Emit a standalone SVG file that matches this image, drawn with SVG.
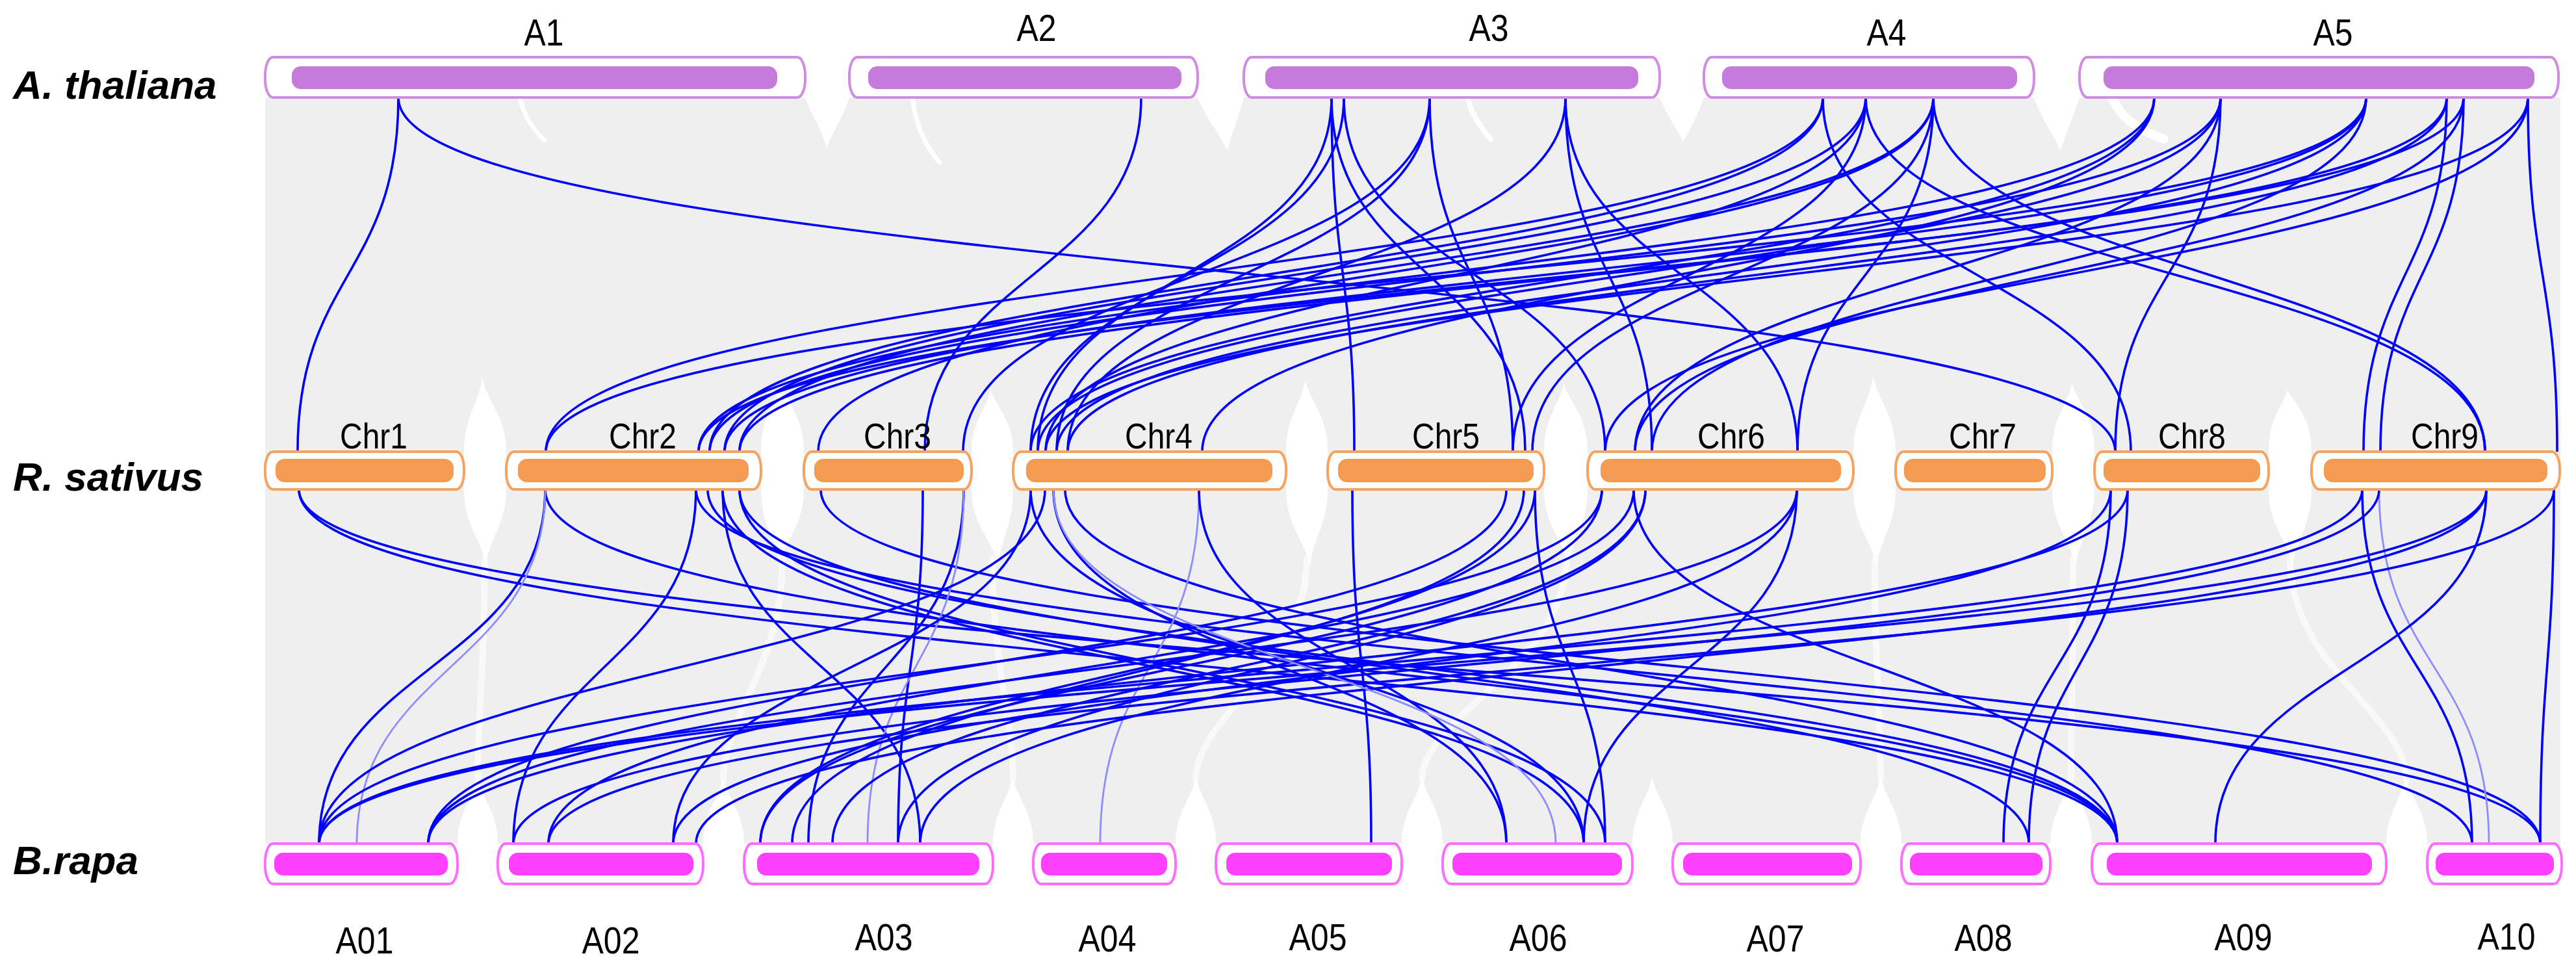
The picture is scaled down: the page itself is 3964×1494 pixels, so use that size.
<svg xmlns="http://www.w3.org/2000/svg" width="3964" height="1494" viewBox="0 0 3964 1494">
<style>
.band{fill:#efefef}
.gap{fill:#ffffff}
.ch{fill:none;stroke:#ffffff;stroke-linecap:round}
.lk{fill:none;stroke:#0000ff;stroke-width:3.6}
.lt{fill:none;stroke:#8c8cff;stroke-width:2.8}
.op{fill:#ffffff;stroke:#d08ce2;stroke-width:4}
.ip{fill:#c47bdc}
.oo{fill:#ffffff;stroke:#f4a460;stroke-width:4}
.io{fill:#f39b53}
.om{fill:#ffffff;stroke:#ff6cff;stroke-width:4}
.im{fill:#ff40ff}
.lab{font-family:"Liberation Sans",Arial,sans-serif;fill:#000;text-anchor:middle}
.sp{font-family:"Liberation Sans",Arial,sans-serif;font-weight:bold;font-style:italic;font-size:62px;fill:#000}
</style>
<g id="background">
<rect class="band" x="408" y="150" width="3532" height="1148"/>
<path class="gap" d="M1239 150C1250 180 1266 200 1272 228C1282 200 1298 180 1307 150Z"/>
<path class="gap" d="M1843 150C1856 185 1878 205 1888 232C1896 205 1906 180 1914 150Z"/>
<path class="gap" d="M2554 150C2566 180 2582 200 2590 218C2600 200 2612 180 2622 150Z"/>
<path class="gap" d="M3130 150C3142 185 3160 205 3170 232C3180 205 3190 180 3200 150Z"/>
<path class="ch" stroke-width="7" d="M800 150C806 180 822 200 838 216"/>
<path class="ch" stroke-width="7" d="M1404 150C1410 200 1428 230 1446 250"/>
<path class="ch" stroke-width="8" d="M2258 150C2266 180 2282 200 2294 214"/>
<path class="ch" stroke-width="14" d="M3250 150C3262 180 3290 200 3330 214"/>
<path class="gap" d="M714 695C714 640 738 620 742 580C750 620 779 640 779 695L779 753C779 808 752 828 748 870C740 828 714 808 714 753Z"/>
<path class="gap" d="M1171 695C1171 640 1196 620 1200 585C1210 620 1237 640 1237 695L1237 753C1237 808 1208 828 1200 870C1194 828 1171 808 1171 753Z"/>
<path class="gap" d="M1495 695C1495 645 1520 630 1524 598C1534 630 1559 645 1559 695L1559 753C1559 808 1540 828 1536 870C1526 828 1495 808 1495 753Z"/>
<path class="gap" d="M1979 695C1979 640 2004 620 2008 585C2018 620 2043 640 2043 695L2043 753C2043 808 2020 828 2016 870C2006 828 1979 808 1979 753Z"/>
<path class="gap" d="M2376 695C2376 640 2402 620 2406 590C2416 620 2443 640 2443 695L2443 753C2443 808 2420 828 2414 870C2404 828 2376 808 2376 753Z"/>
<path class="gap" d="M2852 695C2852 640 2878 620 2882 578C2892 620 2917 640 2917 695L2917 753C2917 808 2894 828 2888 870C2878 828 2852 808 2852 753Z"/>
<path class="gap" d="M3158 695C3158 640 3184 620 3188 590C3198 620 3223 640 3223 695L3223 753C3223 808 3200 828 3194 870C3184 828 3158 808 3158 753Z"/>
<path class="gap" d="M3491 695C3491 640 3516 620 3520 600C3530 620 3557 640 3557 695L3557 753C3557 808 3534 828 3528 870C3518 828 3491 808 3491 753Z"/>
<path class="ch" stroke-width="10" opacity="0.6" d="M746 860C746 1026 735 1100 735 1200"/>
<path class="ch" stroke-width="10" opacity="0.6" d="M1204 860C1204 1026 1113 1100 1113 1200"/>
<path class="ch" stroke-width="10" opacity="0.6" d="M1527 860C1527 1026 1559 1100 1559 1200"/>
<path class="ch" stroke-width="10" opacity="0.6" d="M2011 860C2011 1026 1840 1100 1840 1200"/>
<path class="ch" stroke-width="10" opacity="0.6" d="M2410 860C2410 1026 2188 1100 2188 1200"/>
<path class="ch" stroke-width="10" opacity="0.6" d="M2885 860C2885 1026 2894 1100 2894 1200"/>
<path class="ch" stroke-width="10" opacity="0.6" d="M3190 860C3190 1026 3187 1100 3187 1200"/>
<path class="ch" stroke-width="10" opacity="0.6" d="M3524 860C3524 1026 3703 1100 3703 1200"/>
<path class="gap" d="M704 1298C704 1250 728 1230 734 1195C742 1230 766 1250 766 1298Z"/>
<path class="gap" d="M1082 1298C1082 1250 1106 1230 1112 1195C1120 1230 1145 1250 1145 1298Z"/>
<path class="gap" d="M1528 1298C1528 1250 1552 1230 1558 1195C1566 1230 1590 1250 1590 1298Z"/>
<path class="gap" d="M1809 1298C1809 1250 1834 1230 1840 1195C1848 1230 1871 1250 1871 1298Z"/>
<path class="gap" d="M2157 1298C2157 1250 2182 1230 2188 1195C2196 1230 2220 1250 2220 1298Z"/>
<path class="gap" d="M2512 1298C2512 1250 2536 1230 2542 1195C2550 1230 2574 1250 2574 1298Z"/>
<path class="gap" d="M2863 1298C2863 1250 2888 1230 2894 1195C2902 1230 2926 1250 2926 1298Z"/>
<path class="gap" d="M3155 1298C3155 1250 3180 1230 3186 1195C3194 1230 3219 1250 3219 1298Z"/>
<path class="gap" d="M3672 1298C3672 1250 3696 1230 3702 1195C3710 1230 3735 1250 3735 1298Z"/>
</g>
<g id="connectors">
<path class="lk" d="M613 150C613 423 458 423 458 695"/>
<path class="lk" d="M613 150C613 423 3255 423 3255 695"/>
<path class="lk" d="M1756 150C1756 423 1423 423 1423 695"/>
<path class="lk" d="M2049 150C2049 423 2084 423 2084 695"/>
<path class="lk" d="M2049 150C2049 423 1597 423 1597 695"/>
<path class="lk" d="M2068 150C2068 423 1586 423 1586 695"/>
<path class="lk" d="M2068 150C2068 423 2470 423 2470 695"/>
<path class="lk" d="M2049 150C2049 423 2347 423 2347 695"/>
<path class="lk" d="M2200 150C2200 423 1482 423 1482 695"/>
<path class="lk" d="M2200 150C2200 423 1626 423 1626 695"/>
<path class="lk" d="M2200 150C2200 423 2328 423 2328 695"/>
<path class="lk" d="M2409 150C2409 423 1643 423 1643 695"/>
<path class="lk" d="M2409 150C2409 423 2542 423 2542 695"/>
<path class="lk" d="M2409 150C2409 423 2766 423 2766 695"/>
<path class="lk" d="M2805 150C2805 423 840 423 840 695"/>
<path class="lk" d="M2805 150C2805 423 1092 423 1092 695"/>
<path class="lk" d="M2805 150C2805 423 3279 423 3279 695"/>
<path class="lk" d="M2871 150C2871 423 1115 423 1115 695"/>
<path class="lk" d="M2871 150C2871 423 3824 423 3824 695"/>
<path class="lk" d="M2871 150C2871 423 1609 423 1609 695"/>
<path class="lk" d="M2975 150C2975 423 1138 423 1138 695"/>
<path class="lk" d="M2975 150C2975 423 1259 423 1259 695"/>
<path class="lk" d="M2975 150C2975 423 3824 423 3824 695"/>
<path class="lk" d="M2975 150C2975 423 2766 423 2766 695"/>
<path class="lk" d="M2975 150C2975 423 2358 423 2358 695"/>
<path class="lk" d="M3315 150C3315 423 1075 423 1075 695"/>
<path class="lk" d="M3315 150C3315 423 1850 423 1850 695"/>
<path class="lk" d="M3417 150C3417 423 1092 423 1092 695"/>
<path class="lk" d="M3417 150C3417 423 2516 423 2516 695"/>
<path class="lk" d="M3417 150C3417 423 3255 423 3255 695"/>
<path class="lk" d="M3641 150C3641 423 1115 423 1115 695"/>
<path class="lk" d="M3641 150C3641 423 1626 423 1626 695"/>
<path class="lk" d="M3641 150C3641 423 2542 423 2542 695"/>
<path class="lk" d="M3765 150C3765 423 3637 423 3637 695"/>
<path class="lk" d="M3765 150C3765 423 1138 423 1138 695"/>
<path class="lk" d="M3765 150C3765 423 1643 423 1643 695"/>
<path class="lk" d="M3791 150C3791 423 3663 423 3663 695"/>
<path class="lk" d="M3791 150C3791 423 1075 423 1075 695"/>
<path class="lk" d="M3791 150C3791 423 2516 423 2516 695"/>
<path class="lk" d="M3890 150C3890 423 3935 423 3935 695"/>
<path class="lk" d="M3890 150C3890 423 2470 423 2470 695"/>
<path class="lk" d="M3890 150C3890 423 1609 423 1609 695"/>
<path class="lk" d="M3641 150C3641 423 840 423 840 695"/>
<path class="lk" d="M3315 150C3315 423 1586 423 1586 695"/>
<path class="lk" d="M3417 150C3417 423 1597 423 1597 695"/>
<path class="lk" d="M2871 150C2871 423 2328 423 2328 695"/>
<path class="lk" d="M460 753C460 1026 3909 1026 3909 1298"/>
<path class="lk" d="M460 753C460 1026 3258 1026 3258 1298"/>
<path class="lk" d="M839 753C839 1026 491 1026 491 1298"/>
<path class="lk" d="M839 753C839 1026 3258 1026 3258 1298"/>
<path class="lt" d="M839 753C839 1026 549 1026 549 1298"/>
<path class="lk" d="M1071 753C1071 1026 790 1026 790 1298"/>
<path class="lk" d="M1071 753C1071 1026 3804 1026 3804 1298"/>
<path class="lk" d="M1089 753C1089 1026 3258 1026 3258 1298"/>
<path class="lk" d="M1112 753C1112 1026 1416 1026 1416 1298"/>
<path class="lk" d="M1112 753C1112 1026 2437 1026 2437 1298"/>
<path class="lk" d="M1138 753C1138 1026 3122 1026 3122 1298"/>
<path class="lk" d="M1138 753C1138 1026 2470 1026 2470 1298"/>
<path class="lk" d="M1263 753C1263 1026 3909 1026 3909 1298"/>
<path class="lk" d="M1420 753C1420 1026 1382 1026 1382 1298"/>
<path class="lk" d="M1483 753C1483 1026 1244 1026 1244 1298"/>
<path class="lt" d="M1483 753C1483 1026 1335 1026 1335 1298"/>
<path class="lk" d="M1586 753C1586 1026 1036 1026 1036 1298"/>
<path class="lk" d="M1608 753C1608 1026 491 1026 491 1298"/>
<path class="lk" d="M1621 753C1621 1026 2318 1026 2318 1298"/>
<path class="lk" d="M1639 753C1639 1026 3258 1026 3258 1298"/>
<path class="lk" d="M1586 753C1586 1026 2437 1026 2437 1298"/>
<path class="lt" d="M1845 753C1845 1026 1693 1026 1693 1298"/>
<path class="lk" d="M1845 753C1845 1026 2318 1026 2318 1298"/>
<path class="lk" d="M2081 753C2081 1026 2110 1026 2110 1298"/>
<path class="lk" d="M2318 753C2318 1026 659 1026 659 1298"/>
<path class="lk" d="M2345 753C2345 1026 1219 1026 1219 1298"/>
<path class="lk" d="M2362 753C2362 1026 2470 1026 2470 1298"/>
<path class="lk" d="M2465 753C2465 1026 491 1026 491 1298"/>
<path class="lk" d="M2465 753C2465 1026 1170 1026 1170 1298"/>
<path class="lk" d="M2514 753C2514 1026 844 1026 844 1298"/>
<path class="lk" d="M2532 753C2532 1026 1281 1026 1281 1298"/>
<path class="lk" d="M2514 753C2514 1026 3258 1026 3258 1298"/>
<path class="lk" d="M2765 753C2765 1026 2437 1026 2437 1298"/>
<path class="lk" d="M2765 753C2765 1026 1416 1026 1416 1298"/>
<path class="lk" d="M3248 753C3248 1026 3083 1026 3083 1298"/>
<path class="lk" d="M3274 753C3274 1026 3122 1026 3122 1298"/>
<path class="lk" d="M3248 753C3248 1026 1036 1026 1036 1298"/>
<path class="lk" d="M3274 753C3274 1026 659 1026 659 1298"/>
<path class="lk" d="M3635 753C3635 1026 3804 1026 3804 1298"/>
<path class="lt" d="M3661 753C3661 1026 3830 1026 3830 1298"/>
<path class="lk" d="M3635 753C3635 1026 491 1026 491 1298"/>
<path class="lk" d="M3661 753C3661 1026 790 1026 790 1298"/>
<path class="lk" d="M3826 753C3826 1026 3409 1026 3409 1298"/>
<path class="lk" d="M3826 753C3826 1026 1071 1026 1071 1298"/>
<path class="lk" d="M3930 753C3930 1026 844 1026 844 1298"/>
<path class="lk" d="M3930 753C3930 1026 3909 1026 3909 1298"/>
<path class="lk" d="M2532 753C2532 1026 1382 1026 1382 1298"/>
<path class="lk" d="M2362 753C2362 1026 1170 1026 1170 1298"/>
<path class="lt" d="M1621 753C1621 1026 2394 1026 2394 1298"/>
<path class="lk" d="M3826 753C3826 1026 491 1026 491 1298"/>
<path class="lk" d="M2765 753C2765 1026 659 1026 659 1298"/>
</g>
<g id="species-labels">
<text class="sp" x="20" y="152">A. thaliana</text>
<text class="sp" x="20" y="755">R. sativus</text>
<text class="sp" x="20" y="1345">B.rapa</text>
</g>
<g id="A1"><rect class="op" x="408" y="88" width="831" height="62" rx="12" ry="28"/><rect class="ip" x="449" y="102" width="747" height="35" rx="14" ry="14"/><text class="lab" x="837" y="70" font-size="58" textLength="61" lengthAdjust="spacingAndGlyphs">A1</text></g>
<g id="A2"><rect class="op" x="1307" y="88" width="536" height="62" rx="12" ry="28"/><rect class="ip" x="1336" y="102" width="482" height="35" rx="14" ry="14"/><text class="lab" x="1595" y="63" font-size="58" textLength="61" lengthAdjust="spacingAndGlyphs">A2</text></g>
<g id="A3"><rect class="op" x="1914" y="88" width="640" height="62" rx="12" ry="28"/><rect class="ip" x="1947" y="102" width="574" height="35" rx="14" ry="14"/><text class="lab" x="2291" y="63" font-size="58" textLength="61" lengthAdjust="spacingAndGlyphs">A3</text></g>
<g id="A4"><rect class="op" x="2622" y="88" width="508" height="62" rx="12" ry="28"/><rect class="ip" x="2650" y="102" width="454" height="35" rx="14" ry="14"/><text class="lab" x="2903" y="70" font-size="58" textLength="61" lengthAdjust="spacingAndGlyphs">A4</text></g>
<g id="A5"><rect class="op" x="3200" y="88" width="737" height="62" rx="12" ry="28"/><rect class="ip" x="3237" y="102" width="663" height="35" rx="14" ry="14"/><text class="lab" x="3590" y="70" font-size="58" textLength="61" lengthAdjust="spacingAndGlyphs">A5</text></g>
<g id="Chr1"><rect class="oo" x="408" y="695" width="306" height="58" rx="12" ry="26"/><rect class="io" x="424" y="706" width="274" height="36" rx="14" ry="14"/><text class="lab" x="575" y="690" font-size="56" textLength="104" lengthAdjust="spacingAndGlyphs">Chr1</text></g>
<g id="Chr2"><rect class="oo" x="779" y="695" width="392" height="58" rx="12" ry="26"/><rect class="io" x="797" y="706" width="355" height="36" rx="14" ry="14"/><text class="lab" x="989" y="690" font-size="56" textLength="104" lengthAdjust="spacingAndGlyphs">Chr2</text></g>
<g id="Chr3"><rect class="oo" x="1237" y="695" width="258" height="58" rx="12" ry="26"/><rect class="io" x="1253" y="706" width="230" height="36" rx="14" ry="14"/><text class="lab" x="1381" y="690" font-size="56" textLength="104" lengthAdjust="spacingAndGlyphs">Chr3</text></g>
<g id="Chr4"><rect class="oo" x="1559" y="695" width="420" height="58" rx="12" ry="26"/><rect class="io" x="1579" y="706" width="379" height="36" rx="14" ry="14"/><text class="lab" x="1783" y="690" font-size="56" textLength="104" lengthAdjust="spacingAndGlyphs">Chr4</text></g>
<g id="Chr5"><rect class="oo" x="2043" y="695" width="333" height="58" rx="12" ry="26"/><rect class="io" x="2059" y="706" width="301" height="36" rx="14" ry="14"/><text class="lab" x="2225" y="690" font-size="56" textLength="104" lengthAdjust="spacingAndGlyphs">Chr5</text></g>
<g id="Chr6"><rect class="oo" x="2443" y="695" width="409" height="58" rx="12" ry="26"/><rect class="io" x="2463" y="706" width="370" height="36" rx="14" ry="14"/><text class="lab" x="2664" y="690" font-size="56" textLength="104" lengthAdjust="spacingAndGlyphs">Chr6</text></g>
<g id="Chr7"><rect class="oo" x="2917" y="695" width="241" height="58" rx="12" ry="26"/><rect class="io" x="2930" y="706" width="218" height="36" rx="14" ry="14"/><text class="lab" x="3051" y="690" font-size="56" textLength="104" lengthAdjust="spacingAndGlyphs">Chr7</text></g>
<g id="Chr8"><rect class="oo" x="3223" y="695" width="268" height="58" rx="12" ry="26"/><rect class="io" x="3237" y="706" width="241" height="36" rx="14" ry="14"/><text class="lab" x="3373" y="690" font-size="56" textLength="104" lengthAdjust="spacingAndGlyphs">Chr8</text></g>
<g id="Chr9"><rect class="oo" x="3557" y="695" width="382" height="58" rx="12" ry="26"/><rect class="io" x="3576" y="706" width="344" height="36" rx="14" ry="14"/><text class="lab" x="3762" y="690" font-size="56" textLength="104" lengthAdjust="spacingAndGlyphs">Chr9</text></g>
<g id="A01"><rect class="om" x="408" y="1298" width="296" height="62" rx="12" ry="28"/><rect class="im" x="422" y="1312" width="267" height="35" rx="14" ry="14"/><text class="lab" x="561" y="1467" font-size="58" textLength="89" lengthAdjust="spacingAndGlyphs">A01</text></g>
<g id="A02"><rect class="om" x="766" y="1298" width="316" height="62" rx="12" ry="28"/><rect class="im" x="783" y="1312" width="284" height="35" rx="14" ry="14"/><text class="lab" x="940" y="1467" font-size="58" textLength="89" lengthAdjust="spacingAndGlyphs">A02</text></g>
<g id="A03"><rect class="om" x="1145" y="1298" width="383" height="62" rx="12" ry="28"/><rect class="im" x="1165" y="1312" width="342" height="35" rx="14" ry="14"/><text class="lab" x="1360" y="1462" font-size="58" textLength="89" lengthAdjust="spacingAndGlyphs">A03</text></g>
<g id="A04"><rect class="om" x="1590" y="1298" width="219" height="62" rx="12" ry="28"/><rect class="im" x="1602" y="1312" width="194" height="35" rx="14" ry="14"/><text class="lab" x="1704" y="1464" font-size="58" textLength="89" lengthAdjust="spacingAndGlyphs">A04</text></g>
<g id="A05"><rect class="om" x="1871" y="1298" width="286" height="62" rx="12" ry="28"/><rect class="im" x="1887" y="1312" width="255" height="35" rx="14" ry="14"/><text class="lab" x="2028" y="1462" font-size="58" textLength="89" lengthAdjust="spacingAndGlyphs">A05</text></g>
<g id="A06"><rect class="om" x="2220" y="1298" width="292" height="62" rx="12" ry="28"/><rect class="im" x="2235" y="1312" width="261" height="35" rx="14" ry="14"/><text class="lab" x="2367" y="1463" font-size="58" textLength="89" lengthAdjust="spacingAndGlyphs">A06</text></g>
<g id="A07"><rect class="om" x="2574" y="1298" width="289" height="62" rx="12" ry="28"/><rect class="im" x="2590" y="1312" width="260" height="35" rx="14" ry="14"/><text class="lab" x="2732" y="1464" font-size="58" textLength="89" lengthAdjust="spacingAndGlyphs">A07</text></g>
<g id="A08"><rect class="om" x="2926" y="1298" width="229" height="62" rx="12" ry="28"/><rect class="im" x="2939" y="1312" width="204" height="35" rx="14" ry="14"/><text class="lab" x="3052" y="1463" font-size="58" textLength="89" lengthAdjust="spacingAndGlyphs">A08</text></g>
<g id="A09"><rect class="om" x="3219" y="1298" width="453" height="62" rx="12" ry="28"/><rect class="im" x="3242" y="1312" width="408" height="35" rx="14" ry="14"/><text class="lab" x="3452" y="1462" font-size="58" textLength="89" lengthAdjust="spacingAndGlyphs">A09</text></g>
<g id="A10"><rect class="om" x="3735" y="1298" width="207" height="62" rx="12" ry="28"/><rect class="im" x="3748" y="1312" width="182" height="35" rx="14" ry="14"/><text class="lab" x="3857" y="1461" font-size="58" textLength="89" lengthAdjust="spacingAndGlyphs">A10</text></g>
</svg>
